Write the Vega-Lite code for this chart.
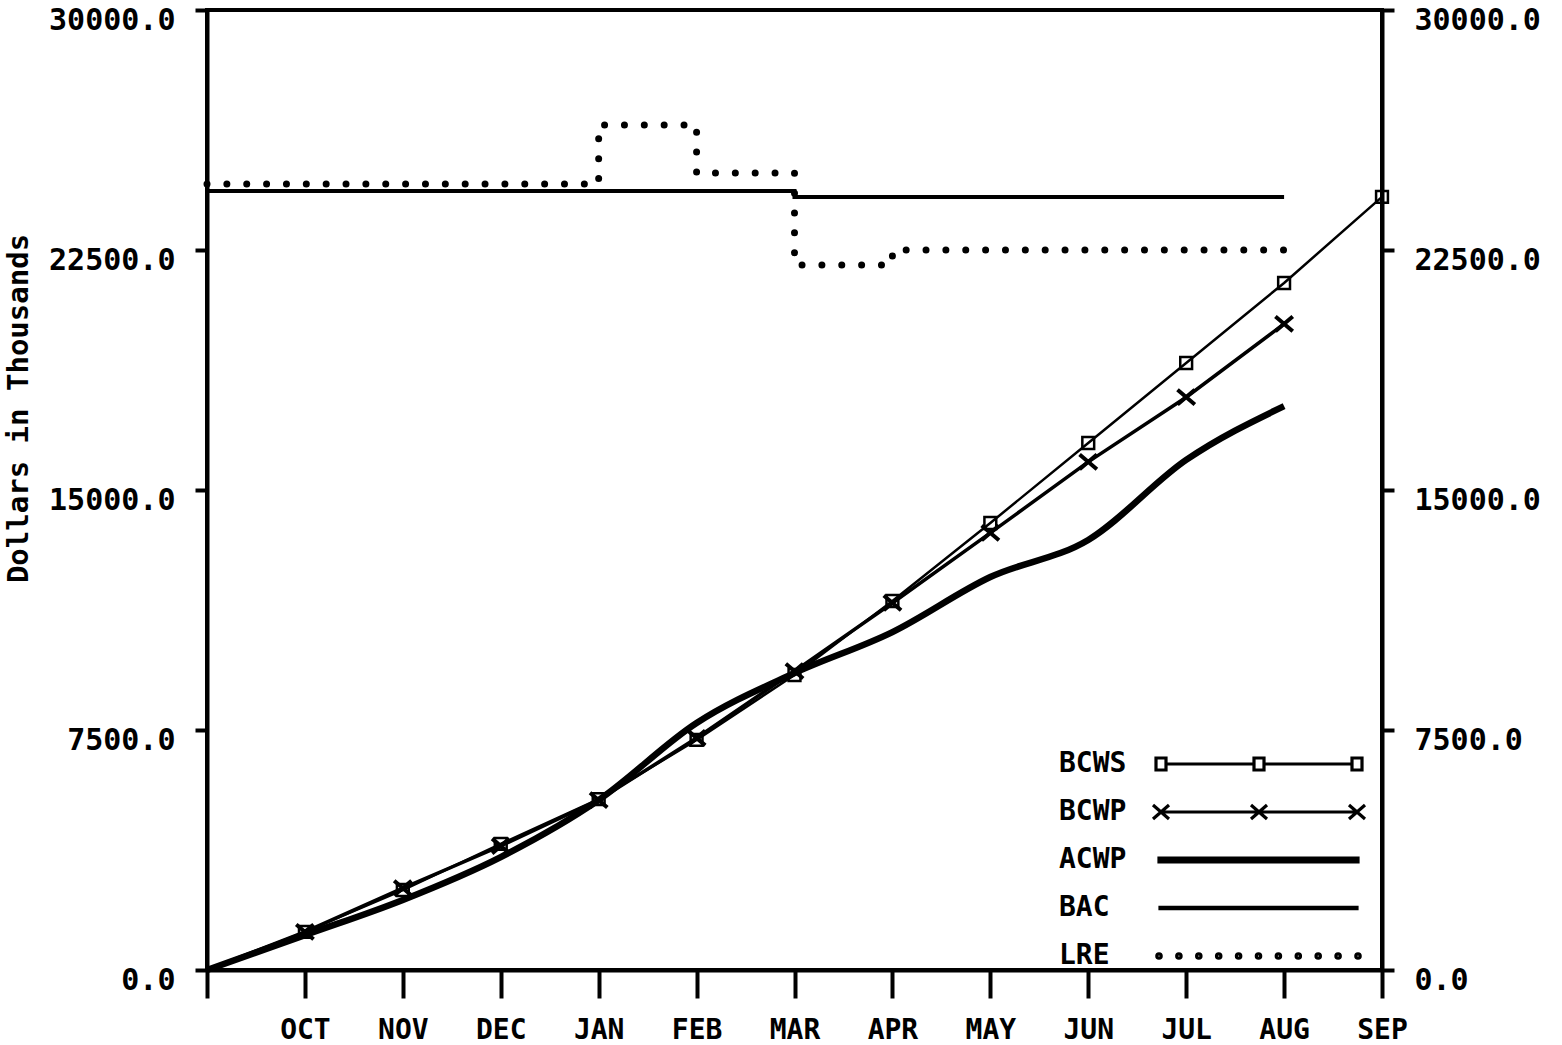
{
  "$schema": "https://vega.github.io/schema/vega-lite/v6.json",
  "width": 1175,
  "height": 960,
  "autosize": {"type": "none"},
  "padding": {"left": 207, "top": 10, "right": 180, "bottom": 75},
  "background": "white",
  "config": {
    "view": {"stroke": "black", "strokeWidth": 4},
    "axis": {
      "domainColor": "black", "domainWidth": 4, "tickColor": "black", "tickWidth": 4,
      "grid": false, "labelFont": "DejaVu Sans Mono", "labelFontWeight": "bold",
      "labelColor": "black", "labelFlush": false, "labelOverlap": false
    },
    "legend": {"padding": 0}
  },
  "data": {
    "values": [
      {"series": "BCWS", "idx": 0, "value": 0},
      {"series": "BCWS", "idx": 1, "value": 1190},
      {"series": "BCWS", "idx": 2, "value": 2500},
      {"series": "BCWS", "idx": 3, "value": 3940},
      {"series": "BCWS", "idx": 4, "value": 5340},
      {"series": "BCWS", "idx": 5, "value": 7190},
      {"series": "BCWS", "idx": 6, "value": 9220},
      {"series": "BCWS", "idx": 7, "value": 11530},
      {"series": "BCWS", "idx": 8, "value": 13970},
      {"series": "BCWS", "idx": 9, "value": 16470},
      {"series": "BCWS", "idx": 10, "value": 18970},
      {"series": "BCWS", "idx": 11, "value": 21470},
      {"series": "BCWS", "idx": 12, "value": 24160},
      {"series": "BCWP", "idx": 0, "value": 0},
      {"series": "BCWP", "idx": 1, "value": 1190},
      {"series": "BCWP", "idx": 2, "value": 2560},
      {"series": "BCWP", "idx": 3, "value": 3875},
      {"series": "BCWP", "idx": 4, "value": 5310},
      {"series": "BCWP", "idx": 5, "value": 7250},
      {"series": "BCWP", "idx": 6, "value": 9340},
      {"series": "BCWP", "idx": 7, "value": 11470},
      {"series": "BCWP", "idx": 8, "value": 13660},
      {"series": "BCWP", "idx": 9, "value": 15880},
      {"series": "BCWP", "idx": 10, "value": 17900},
      {"series": "BCWP", "idx": 11, "value": 20190},
      {"series": "ACWP", "idx": 0, "value": 0},
      {"series": "ACWP", "idx": 1, "value": 1090},
      {"series": "ACWP", "idx": 2, "value": 2190},
      {"series": "ACWP", "idx": 3, "value": 3530},
      {"series": "ACWP", "idx": 4, "value": 5310},
      {"series": "ACWP", "idx": 5, "value": 7720},
      {"series": "ACWP", "idx": 6, "value": 9280},
      {"series": "ACWP", "idx": 7, "value": 10560},
      {"series": "ACWP", "idx": 8, "value": 12280},
      {"series": "ACWP", "idx": 9, "value": 13440},
      {"series": "ACWP", "idx": 10, "value": 15940},
      {"series": "ACWP", "idx": 11, "value": 17620},
      {"series": "BAC", "idx": 0, "value": 24340},
      {"series": "BAC", "idx": 6, "value": 24160},
      {"series": "BAC", "idx": 11, "value": 24160},
      {"series": "LRE", "idx": 0, "value": 24560},
      {"series": "LRE", "idx": 4, "value": 26410},
      {"series": "LRE", "idx": 5, "value": 24910},
      {"series": "LRE", "idx": 6, "value": 22030},
      {"series": "LRE", "idx": 7, "value": 22500},
      {"series": "LRE", "idx": 11, "value": 22500}
    ]
  },
  "encoding": {
    "x": {
      "field": "idx", "type": "quantitative",
      "scale": {"domain": [0, 12], "nice": false, "zero": false},
      "axis": {
        "title": null, "values": [0,1,2,3,4,5,6,7,8,9,10,11,12],
        "tickSize": 28, "labelPadding": 18, "labelFontSize": 28,
        "labelExpr": "['', 'OCT','NOV','DEC','JAN','FEB','MAR','APR','MAY','JUN','JUL','AUG','SEP'][datum.value]"
      }
    }
  },
  "layer": [
    {
      "transform": [{"filter": "datum.series === 'BCWS'"}],
      "mark": {"type": "line", "color": "black", "strokeWidth": 2.5},
      "encoding": {
        "y": {
          "field": "value", "type": "quantitative",
          "scale": {"domain": [0, 30000], "nice": false, "zero": true},
          "axis": {
            "orient": "left", "values": [0, 7500, 15000, 22500, 30000], "format": ".1f",
            "tickSize": 12, "labelPadding": 20, "labelFontSize": 30, "labelOffset": 10,
            "title": "Dollars in Thousands", "titleFont": "DejaVu Sans Mono", "titleFontWeight": "bold",
            "titleFontSize": 29, "titleColor": "black", "titleX": -189, "titleY": 398, "titleAngle": 270,
            "titleAlign": "center", "titleBaseline": "middle"
          }
        }
      }
    },
    {
      "transform": [{"filter": "datum.series === 'BCWP'"}],
      "mark": {"type": "line", "color": "black", "strokeWidth": 3.5},
      "encoding": {"y": {"field": "value", "type": "quantitative", "axis": null}}
    },
    {
      "transform": [{"filter": "datum.series === 'ACWP'"}],
      "mark": {"type": "line", "color": "black", "strokeWidth": 6.5, "interpolate": "monotone"},
      "encoding": {"y": {"field": "value", "type": "quantitative", "axis": null}}
    },
    {
      "transform": [{"filter": "datum.series === 'BAC'"}],
      "mark": {"type": "line", "color": "black", "strokeWidth": 4, "interpolate": "step-after"},
      "encoding": {"y": {"field": "value", "type": "quantitative", "axis": null}}
    },
    {
      "transform": [{"filter": "datum.series === 'LRE'"}],
      "mark": {"type": "line", "color": "black", "strokeWidth": 7, "interpolate": "step-after", "strokeDash": [0.01, 19.85], "strokeCap": "round"},
      "encoding": {"y": {"field": "value", "type": "quantitative", "axis": null}}
    },
    {
      "transform": [{"filter": "datum.series === 'BCWS' && datum.idx > 0"}],
      "mark": {"type": "point", "shape": "square", "filled": false, "color": "black", "size": 140, "strokeWidth": 2.5, "opacity": 1},
      "encoding": {"y": {"field": "value", "type": "quantitative", "axis": null}}
    },
    {
      "transform": [{"filter": "datum.series === 'BCWP' && datum.idx > 0"}],
      "mark": {"type": "point", "shape": "M-1,-0.85L1,0.85M-1,0.85L1,-0.85", "filled": false, "color": "black", "size": 300, "strokeWidth": 4, "opacity": 1},
      "encoding": {"y": {"field": "value", "type": "quantitative", "axis": null}}
    },
    {
      "mark": {"type": "point", "filled": false, "color": "black", "opacity": 0},
      "encoding": {
        "y": {
          "field": "value", "type": "quantitative",
          "axis": {
            "orient": "right", "values": [0, 7500, 15000, 22500, 30000], "format": ".1f",
            "tickSize": 12, "labelPadding": 20, "labelFontSize": 30, "labelOffset": 10, "title": null
          }
        },
        "shape": {
          "field": "series", "type": "nominal",
          "scale": {
            "domain": ["BCWS", "BCWP", "ACWP", "BAC", "LRE"],
            "range": [
              "M115,-6H125V6H115Z M125,0H213 M213,-6H223V6H213Z M223,0H311 M311,-6H321V6H311Z",
              "M112,-7L128,7M112,7L128,-7 M120,0H316 M210,-7L226,7M210,7L226,-7 M308,-7L324,7M308,7L324,-7",
              "M118,-1.9H317V1.9H118Z M118,0H317",
              "M119,-0.6H316V0.6H119Z",
              "M120.2,0a2.2,2.2 0 1,0 -4.4,0a2.2,2.2 0 1,0 4.4,0 M140.1,0a2.2,2.2 0 1,0 -4.4,0a2.2,2.2 0 1,0 4.4,0 M160,0a2.2,2.2 0 1,0 -4.4,0a2.2,2.2 0 1,0 4.4,0 M179.9,0a2.2,2.2 0 1,0 -4.4,0a2.2,2.2 0 1,0 4.4,0 M199.8,0a2.2,2.2 0 1,0 -4.4,0a2.2,2.2 0 1,0 4.4,0 M219.7,0a2.2,2.2 0 1,0 -4.4,0a2.2,2.2 0 1,0 4.4,0 M239.6,0a2.2,2.2 0 1,0 -4.4,0a2.2,2.2 0 1,0 4.4,0 M259.5,0a2.2,2.2 0 1,0 -4.4,0a2.2,2.2 0 1,0 4.4,0 M279.4,0a2.2,2.2 0 1,0 -4.4,0a2.2,2.2 0 1,0 4.4,0 M299.3,0a2.2,2.2 0 1,0 -4.4,0a2.2,2.2 0 1,0 4.4,0 M319.2,0a2.2,2.2 0 1,0 -4.4,0a2.2,2.2 0 1,0 4.4,0"
            ]
          },
          "legend": {
            "title": null, "orient": "none", "legendX": 820, "legendY": 740,
            "symbolSize": 4, "symbolStrokeWidth": 3.2, "symbolStrokeColor": "black",
            "symbolFillColor": "transparent", "symbolOpacity": 1,
            "labelFont": "DejaVu Sans Mono", "labelFontWeight": "bold", "labelFontSize": 28,
            "labelColor": "black", "labelOffset": 4, "rowPadding": 20, "labelBaseline": "middle"
          }
        }
      }
    }
  ],
  "resolve": {"axis": {"y": "independent"}}
}
